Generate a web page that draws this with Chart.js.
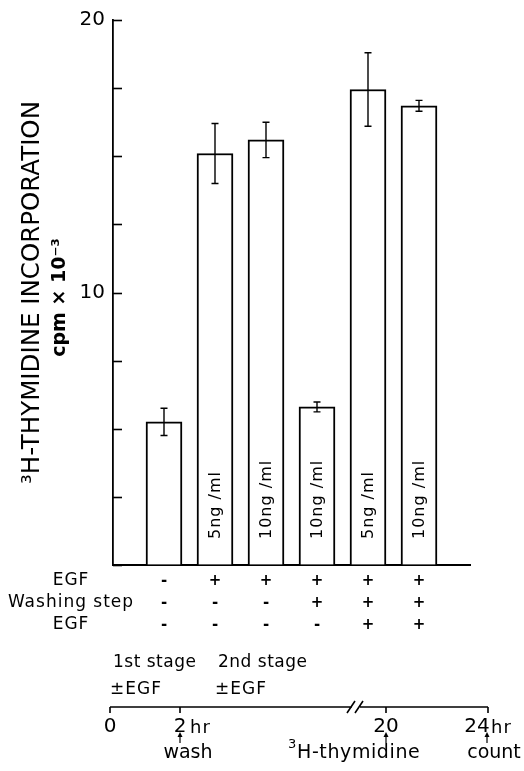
<!DOCTYPE html>
<html>
<head>
<meta charset="utf-8">
<script src="https://cdn.jsdelivr.net/npm/chart.js@4"></script>
<style>
  body { margin: 0; background: #fff; }
  #wrap { width: 524px; height: 771px; }
</style>
</head>
<body>
<div id="wrap"><canvas id="egfChart" width="524" height="771"></canvas></div>
<script>
// values (cpm x 10^-3)
const barLabels = ['', '5ng /ml', '10ng /ml', '10ng /ml', '5ng /ml', '10ng /ml'];
const incorporation = [5.25, 15.1, 15.6, 5.8, 17.45, 16.85];
const sem = [0.5, 1.1, 0.65, 0.18, 1.35, 0.2];

// treatment table under the bars
const rowNames = ['EGF', 'Washing step', 'EGF'];
const egfFirst = ['-', '+', '+', '+', '+', '+'];
const washingStep = ['-', '-', '-', '+', '+', '+'];
const egfSecond = ['-', '-', '-', '-', '+', '+'];

const yTickLabels = { 10: '10', 20: '20' };

const FONT = '"DejaVu Sans", sans-serif';

// error bars, labels inside bars, inner ticks, table and time line
const annotate = {
  id: 'annotate',
  afterDatasetsDraw(chart) {
    const ctx = chart.ctx;
    const xs = chart.scales.x, ys = chart.scales.y;
    ctx.save();
    ctx.strokeStyle = '#000';
    ctx.fillStyle = '#000';

    // inner ticks on y axis
    ctx.lineWidth = 1.6;
    ys.ticks.forEach(t => {
      const y = Math.round(ys.getPixelForValue(t.value)) + 0.5;
      ctx.beginPath();
      ctx.moveTo(xs.left, y);
      ctx.lineTo(xs.left + 9, y);
      ctx.stroke();
    });

    incorporation.forEach((v, i) => {
      const x = xs.getPixelForValue(i + 1);
      const top = ys.getPixelForValue(v + sem[i]);
      const bot = ys.getPixelForValue(v - sem[i]);
      ctx.lineWidth = 1.4;
      ctx.beginPath();
      ctx.moveTo(x, top); ctx.lineTo(x, bot);
      ctx.moveTo(x - 3.5, top); ctx.lineTo(x + 3.5, top);
      ctx.moveTo(x - 3.5, bot); ctx.lineTo(x + 3.5, bot);
      ctx.stroke();

      if (barLabels[i]) {
        ctx.save();
        ctx.translate(x, ys.getPixelForValue(0) - 26);
        ctx.rotate(-Math.PI / 2);
        ctx.font = '16px ' + FONT;
        ctx.letterSpacing = '1px';
        ctx.textAlign = 'left';
        ctx.textBaseline = 'middle';
        ctx.fillText(barLabels[i], 0, 1);
        ctx.restore();
      }
    });

    // y title second line
    ctx.save();
    ctx.translate(60, (ys.top + ys.bottom) / 2 + 5);
    ctx.rotate(-Math.PI / 2);
    ctx.font = 'bold 19px ' + FONT;
    ctx.textAlign = 'center';
    ctx.textBaseline = 'middle';
    ctx.fillText('cpm \u00d7 10\u207b\u00b3', 0, 0);
    ctx.restore();

    // treatment table
    const rows = [egfFirst, washingStep, egfSecond];
    const rowY = [581, 603, 625];
    ctx.textBaseline = 'middle';
    rows.forEach((row, r) => {
      ctx.font = '17px ' + FONT;
      ctx.letterSpacing = '1px';
      ctx.textAlign = 'center';
      ctx.fillText(rowNames[r], 71, rowY[r]);
      ctx.letterSpacing = '0px';
      ctx.font = 'bold 15px ' + FONT;
      row.forEach((s, i) => {
        ctx.fillText(s, xs.getPixelForValue(i + 1), rowY[r]);
      });
    });

    // time line schematic
    ctx.textAlign = 'left';
    ctx.font = '17px ' + FONT;
    ctx.letterSpacing = '0.5px';
    ctx.fillText('1st stage', 113, 663);
    ctx.fillText('2nd stage', 218, 663);
    ctx.letterSpacing = '1px';
    ctx.fillText('\u00b1EGF', 110, 690);
    ctx.fillText('\u00b1EGF', 215, 690);
    ctx.letterSpacing = '0px';

    const lineY = 707;
    ctx.lineWidth = 1.6;
    ctx.beginPath();
    ctx.moveTo(110, lineY); ctx.lineTo(352, lineY);
    ctx.moveTo(360, lineY); ctx.lineTo(488, lineY);
    [110, 180, 386, 488].forEach(x => { ctx.moveTo(x, lineY); ctx.lineTo(x, lineY + 6); });
    ctx.moveTo(347, lineY + 6); ctx.lineTo(355, lineY - 6);
    ctx.moveTo(355, lineY + 6); ctx.lineTo(363, lineY - 6);
    ctx.stroke();

    ctx.font = '20px ' + FONT;
    ctx.textAlign = 'center';
    ctx.fillText('0', 110, 727);
    ctx.fillText('2', 180, 727);
    ctx.fillText('20', 386, 727);
    ctx.fillText('24', 477, 727);
    ctx.font = '18px ' + FONT;
    ctx.textAlign = 'left';
    ctx.letterSpacing = '1px';
    ctx.fillText('hr', 190, 728);
    ctx.fillText('hr', 491, 728);
    ctx.letterSpacing = '0px';

    // arrows
    ctx.lineWidth = 1.2;
    [180, 386, 487].forEach(x => {
      ctx.beginPath();
      ctx.moveTo(x, 743); ctx.lineTo(x, 734);
      ctx.stroke();
      ctx.beginPath();
      ctx.moveTo(x - 2.5, 737); ctx.lineTo(x, 732); ctx.lineTo(x + 2.5, 737);
      ctx.closePath(); ctx.fill();
    });

    ctx.font = '19px ' + FONT;
    ctx.textAlign = 'center';
    ctx.fillText('wash', 188, 753);
    ctx.fillText('count', 494, 753);
    ctx.textAlign = 'left';
    ctx.font = '13px ' + FONT;
    ctx.fillText('3', 288, 745);
    ctx.font = '19px ' + FONT;
    ctx.letterSpacing = '0.6px';
    ctx.fillText('H-thymidine', 297, 753);

    ctx.restore();
  }
};

new Chart(document.getElementById('egfChart'), {
  type: 'bar',
  data: {
    datasets: [{
      data: incorporation.map((v, i) => ({ x: i + 1, y: v })),
      backgroundColor: '#fff',
      borderColor: '#000',
      borderWidth: 2,
      barThickness: 36
    }]
  },
  options: {
    responsive: false,
    animation: false,
    layout: { padding: { top: 16, right: 54, bottom: 206, left: 0 } },
    plugins: { legend: { display: false }, tooltip: { enabled: false } },
    scales: {
      x: {
        type: 'linear',
        offset: false,
        min: 0,
        max: 7,
        ticks: { display: false },
        grid: { display: false, drawTicks: false, offset: false },
        border: { color: '#000', width: 2 }
      },
      y: {
        min: 0,
        max: 20,
        ticks: {
          stepSize: 2.5,
          autoSkip: false,
          padding: 8,
          color: '#000',
          font: { family: FONT, size: 20 },
          callback: v => yTickLabels[v] || ''
        },
        grid: { drawOnChartArea: false, drawTicks: false },
        border: { color: '#000', width: 1.8 },
        title: {
          display: true,
          text: '\u00b3H-THYMIDINE INCORPORATION',
          color: '#000',
          font: { family: FONT, size: 24.5 },
          padding: { top: 18, bottom: 0 }
        },
        afterFit(scale) { scale.width = 113; }
      }
    }
  },
  plugins: [annotate]
});
</script>
</body>
</html>
